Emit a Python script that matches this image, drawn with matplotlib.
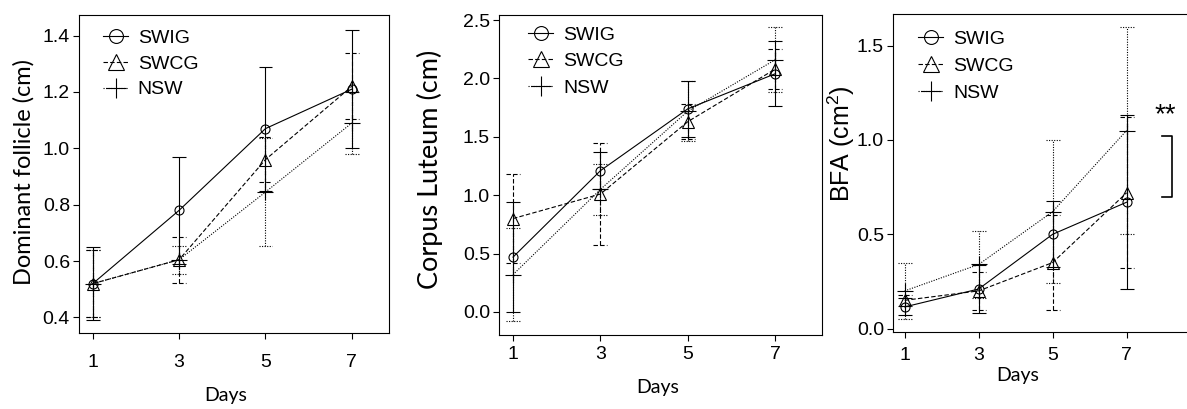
import numpy as np
import matplotlib
matplotlib.use('Agg')
import matplotlib.pyplot as plt
from matplotlib.lines import Line2D

plt.rcParams['font.family'] = ['Liberation Sans', 'DejaVu Sans']
plt.rcParams['mathtext.fontset'] = 'custom'
plt.rcParams['mathtext.rm'] = 'Liberation Sans'
plt.rcParams['mathtext.it'] = 'Liberation Sans:italic'

# Dias de muestreo
days = [1, 3, 5, 7]
groups = ['SWIG', 'SWCG', 'NSW']

# Foliculo dominante (cm): medias y errores
fol_swig = [0.52, 0.78, 1.07, 1.21]
fol_swig_err = [0.13, 0.19, 0.22, 0.21]
fol_swcg = [0.52, 0.605, 0.96, 1.22]
fol_swcg_err = [0.12, 0.082, 0.08, 0.117]
fol_nsw = [0.52, 0.605, 0.845, 1.09]
fol_nsw_err = [0.12, 0.05, 0.19, 0.11]

# Cuerpo luteo (cm)
cl_swig = [0.47, 1.21, 1.74, 2.04]
cl_swig_err = [0.47, 0.16, 0.24, 0.28]
cl_swcg = [0.80, 1.01, 1.63, 2.08]
cl_swcg_err = [0.38, 0.44, 0.15, 0.17]
cl_nsw = [0.32, 1.05, 1.72, 2.16]
cl_nsw_err = [0.40, 0.22, 0.26, 0.28]

# BFA (cm2)
bfa_swig = [0.115, 0.21, 0.50, 0.67]
bfa_swig_err = [0.045, 0.125, 0.175, 0.46]
bfa_swcg = [0.15, 0.20, 0.35, 0.72]
bfa_swcg_err = [0.03, 0.10, 0.25, 0.40]
bfa_nsw = [0.20, 0.34, 0.62, 1.05]
bfa_nsw_err = [0.15, 0.18, 0.38, 0.55]

# Barra de significancia del panel BFA
sig_low, sig_high = 0.70, 1.02
sig_text = '**'

W, H = 1187, 409
fig = plt.figure(figsize=(W / 100, H / 100), dpi=100)

def caja(l, r, t, b):
    return [l / W, 1 - b / H, (r - l) / W, (b - t) / H]

estilos = {
    'SWIG': dict(ls='-', marker='o', ms=6.5, lms=10),
    'SWCG': dict(ls=(0, (4, 2)), marker='^', ms=8, lms=11),
    'NSW': dict(ls=(0, (1, 1.3)), marker='+', ms=11, lms=14),
}
lw = 0.8

def panel(rect, series, xlim, ylim, yticks, ylabel, yfont, ylab_xy, days_xy, xpad, leg_xy, leg_sp, capw):
    ax = fig.add_axes(rect)
    for g, (y, e) in zip(groups, series):
        st = estilos[g]
        y = np.array(y)
        e = np.array(e)
        ax.plot(days, y, color='black', lw=lw, ls=st['ls'], marker=st['marker'],
                ms=st['ms'], mfc='none', mec='black', mew=lw, label=g)
        ax.vlines(days, y - e, y + e, color='black', lw=lw, linestyles=st['ls'])
        for yy in (y - e, y + e):
            ax.hlines(yy, np.array(days) - capw, np.array(days) + capw,
                      color='black', lw=lw, linestyles=st['ls'])
    ax.set_xlim(*xlim)
    ax.set_ylim(*ylim)
    ax.set_xticks(days)
    ax.set_yticks(yticks)
    ax.set_yticklabels(['%.1f' % v for v in yticks])
    ax.tick_params(direction='out', length=4, width=lw, labelsize=14, pad=2.5)
    ax.tick_params(axis='x', pad=xpad)
    for s in ax.spines.values():
        s.set_linewidth(lw)
    ax.set_ylabel(ylabel, fontsize=yfont[1], family=yfont[0])
    ax.yaxis.set_label_coords(*ylab_xy)
    ax.yaxis.label.set_va('center')
    ax.set_xlabel('Days', fontsize=14, family='Lato')
    ax.xaxis.set_label_coords(*days_xy)
    ax.xaxis.label.set_va('center')
    handles = [Line2D([], [], color='black', lw=lw, ls=estilos[g]['ls'], marker=estilos[g]['marker'],
                      ms=estilos[g]['lms'], mfc='none', mew=lw) for g in groups]
    ax.legend(handles, groups, loc='upper left', bbox_to_anchor=leg_xy, frameon=False,
              borderpad=0, borderaxespad=0, handlelength=1.3, handletextpad=0.5,
              labelspacing=leg_sp, fontsize=14)
    return ax

ax1 = panel(caja(79, 389, 15, 333),
            [(fol_swig, fol_swig_err), (fol_swcg, fol_swcg_err), (fol_nsw, fol_nsw_err)],
            (0.683, 7.86), (0.345, 1.473), [0.4, 0.6, 0.8, 1.0, 1.2, 1.4],
            'Dominant follicle (cm)', ('Lato', 17), (-0.177, 0.506), (0.474, -0.195), 11,
            (0.077, 0.955), 0.42, 0.16)

ax2 = panel(caja(499, 822, 15, 335),
            [(cl_swig, cl_swig_err), (cl_swcg, cl_swcg_err), (cl_nsw, cl_nsw_err)],
            (0.679, 8.07), (-0.197, 2.543), [0.0, 0.5, 1.0, 1.5, 2.0, 2.5],
            'Corpus Luteum (cm)', ('Lato', 19.5), (-0.214, 0.519), (0.492, -0.1625), 4,
            (0.09, 0.965), 0.45, 0.16)

ax3 = panel(caja(893, 1192, 14, 332),
            [(bfa_swig, bfa_swig_err), (bfa_swcg, bfa_swcg_err), (bfa_nsw, bfa_nsw_err)],
            (0.683, 8.77), (-0.018, 1.668), [0.0, 0.5, 1.0, 1.5],
            'BFA (cm$^2$)', ('Liberation Sans', 18), (-0.172, 0.591), (0.418, -0.138), 7,
            (0.084, 0.95), 0.5, 0.19)

# corchete de significancia
ax3.plot([7.96, 8.23, 8.23, 7.96], [sig_low, sig_low, sig_high, sig_high], color='black', lw=1.2)
ax3.text(8.06, 1.13, sig_text, ha='center', va='center', fontsize=20)

fig.savefig('out.png', dpi=100)
